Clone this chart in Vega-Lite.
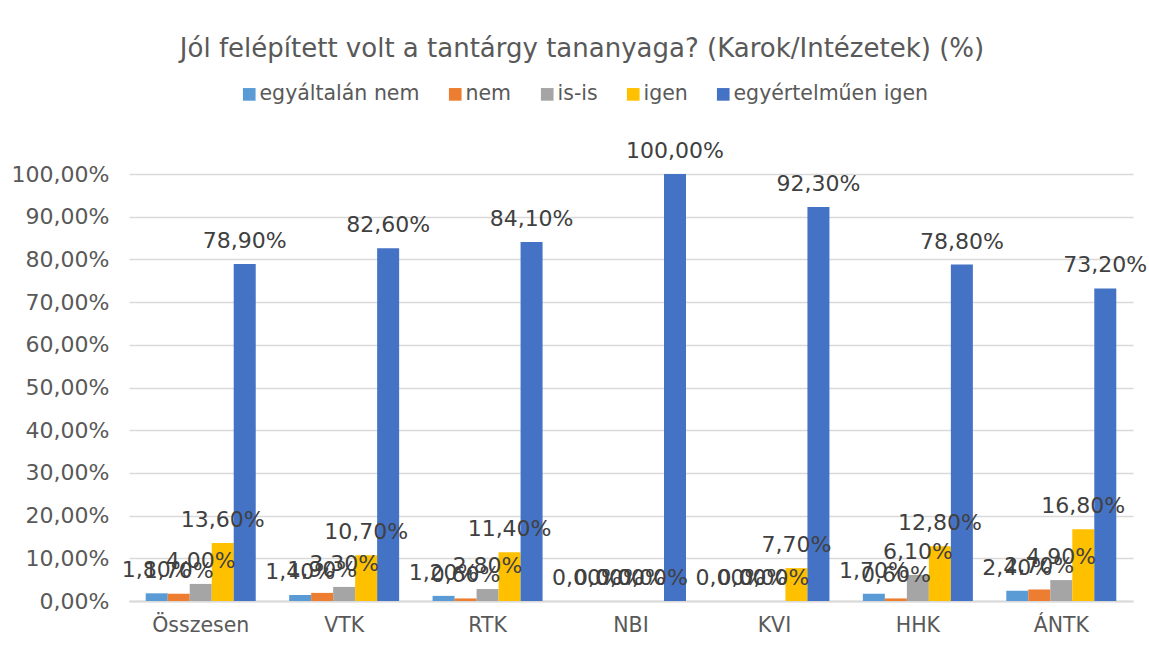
{
  "$schema": "https://vega.github.io/schema/vega-lite/v6.json",
  "width": 1004,
  "height": 427,
  "autosize": {"type": "none"},
  "padding": {"left": 129, "top": 174, "right": 16, "bottom": 47},
  "background": "white",
  "title": {
    "text": "Jól felépített volt a tantárgy tananyaga? (Karok/Intézetek) (%)",
    "fontSize": 26,
    "font": "DejaVu Sans",
    "fontWeight": "normal",
    "color": "#595959",
    "anchor": "middle",
    "dx": -49,
    "offset": 22
  },
  "data": {
    "values": [
      {"kar": "Összesen", "cat": "egyáltalán nem", "value": 0.018},
      {"kar": "Összesen", "cat": "nem", "value": 0.017},
      {"kar": "Összesen", "cat": "is-is", "value": 0.04},
      {"kar": "Összesen", "cat": "igen", "value": 0.136},
      {"kar": "Összesen", "cat": "egyértelműen igen", "value": 0.789},
      {"kar": "VTK", "cat": "egyáltalán nem", "value": 0.014},
      {"kar": "VTK", "cat": "nem", "value": 0.019},
      {"kar": "VTK", "cat": "is-is", "value": 0.033},
      {"kar": "VTK", "cat": "igen", "value": 0.107},
      {"kar": "VTK", "cat": "egyértelműen igen", "value": 0.826},
      {"kar": "RTK", "cat": "egyáltalán nem", "value": 0.012},
      {"kar": "RTK", "cat": "nem", "value": 0.006},
      {"kar": "RTK", "cat": "is-is", "value": 0.028},
      {"kar": "RTK", "cat": "igen", "value": 0.114},
      {"kar": "RTK", "cat": "egyértelműen igen", "value": 0.841},
      {"kar": "NBI", "cat": "egyáltalán nem", "value": 0.0},
      {"kar": "NBI", "cat": "nem", "value": 0.0},
      {"kar": "NBI", "cat": "is-is", "value": 0.0},
      {"kar": "NBI", "cat": "igen", "value": 0.0},
      {"kar": "NBI", "cat": "egyértelműen igen", "value": 1.0},
      {"kar": "KVI", "cat": "egyáltalán nem", "value": 0.0},
      {"kar": "KVI", "cat": "nem", "value": 0.0},
      {"kar": "KVI", "cat": "is-is", "value": 0.0},
      {"kar": "KVI", "cat": "igen", "value": 0.077},
      {"kar": "KVI", "cat": "egyértelműen igen", "value": 0.923},
      {"kar": "HHK", "cat": "egyáltalán nem", "value": 0.017},
      {"kar": "HHK", "cat": "nem", "value": 0.006},
      {"kar": "HHK", "cat": "is-is", "value": 0.061},
      {"kar": "HHK", "cat": "igen", "value": 0.128},
      {"kar": "HHK", "cat": "egyértelműen igen", "value": 0.788},
      {"kar": "ÁNTK", "cat": "egyáltalán nem", "value": 0.024},
      {"kar": "ÁNTK", "cat": "nem", "value": 0.027},
      {"kar": "ÁNTK", "cat": "is-is", "value": 0.049},
      {"kar": "ÁNTK", "cat": "igen", "value": 0.168},
      {"kar": "ÁNTK", "cat": "egyértelműen igen", "value": 0.732}
    ]
  },
  "encoding": {
    "x": {
      "field": "kar",
      "type": "nominal",
      "sort": ["Összesen", "VTK", "RTK", "NBI", "KVI", "HHK", "ÁNTK"],
      "scale": {"paddingInner": 0.233, "paddingOuter": 0.1165},
      "axis": {
        "title": null,
        "labelAngle": 0,
        "labelFontSize": 20.5,
        "labelFont": "DejaVu Sans",
        "labelColor": "#595959",
        "labelPadding": 14,
        "ticks": false,
        "domainColor": "#d9d9d9",
        "domainWidth": 2
      }
    },
    "xOffset": {
      "field": "cat",
      "type": "nominal",
      "sort": ["egyáltalán nem", "nem", "is-is", "igen", "egyértelműen igen"],
      "scale": {"paddingInner": 0, "paddingOuter": 0}
    },
    "y": {
      "field": "value",
      "type": "quantitative",
      "scale": {"domain": [0, 1], "nice": false},
      "axis": {
        "title": null,
        "values": [0, 0.1, 0.2, 0.3, 0.4, 0.5, 0.6, 0.7, 0.8, 0.9, 1.0],
        "format": ".2%",
        "labelFontSize": 22,
        "labelFont": "DejaVu Sans",
        "labelColor": "#595959",
        "labelPadding": 20,
        "ticks": false,
        "domain": false,
        "gridColor": "#d9d9d9",
        "gridWidth": 1.5
      }
    }
  },
  "layer": [
    {
      "mark": {"type": "bar"},
      "encoding": {
        "color": {
          "field": "cat",
          "type": "nominal",
          "sort": ["egyáltalán nem", "nem", "is-is", "igen", "egyértelműen igen"],
          "scale": {
            "domain": ["egyáltalán nem", "nem", "is-is", "igen", "egyértelműen igen"],
            "range": ["#5B9BD5", "#ED7D31", "#A5A5A5", "#FFC000", "#4472C4"]
          },
          "legend": {
            "title": null,
            "orient": "none",
            "direction": "horizontal",
            "legendX": 110,
            "legendY": -90,
            "symbolType": "square",
            "symbolSize": 160,
            "symbolStrokeWidth": 0,
            "labelFontSize": 20.5,
            "labelFont": "DejaVu Sans",
            "labelColor": "#595959",
            "labelOffset": 0,
            "labelLimit": 0,
            "columnPadding": 25
          }
        }
      }
    },
    {
      "mark": {
        "type": "text",
        "baseline": "alphabetic",
        "align": "center",
        "dy": -16,
        "fontSize": 22,
        "font": "DejaVu Sans",
        "color": "#404040"
      },
      "encoding": {
        "text": {"field": "value", "type": "quantitative", "format": ".2%"}
      }
    }
  ],
  "config": {
    "view": {"stroke": null},
    "locale": {
      "number": {
        "decimal": ",",
        "thousands": " ",
        "grouping": [3],
        "currency": ["", " Ft"]
      }
    }
  }
}
